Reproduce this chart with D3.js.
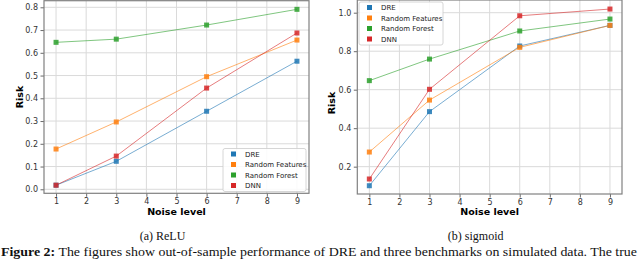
<!DOCTYPE html>
<html>
<head>
<meta charset="utf-8">
<script src="https://cdn.jsdelivr.net/npm/d3@7"></script>
<style>
  body { margin: 0; background: #fff; }
  svg { display: block; }
  text { font-family: "DejaVu Sans", sans-serif; }
</style>
</head>
<body>
<svg width="640" height="260"></svg>
<script>
// noise levels on the x axis
const noise = [1, 3, 6, 9];
const xTicks = [1, 2, 3, 4, 5, 6, 7, 8, 9];
const methods = ["DRE", "Random Features", "Random Forest", "DNN"];
const colors = ["#1f77b4", "#ff7f0e", "#2ca02c", "#d62728"];

// (a) ReLU
const reluDRE = [0.018, 0.123, 0.343, 0.563];
const reluRF = [0.177, 0.296, 0.495, 0.656];
const reluForest = [0.646, 0.660, 0.722, 0.791];
const reluDNN = [0.018, 0.146, 0.445, 0.687];
const reluTicks = [0.0, 0.1, 0.2, 0.3, 0.4, 0.5, 0.6, 0.7, 0.8];

// (b) sigmoid
const sigDRE = [0.101, 0.486, 0.827, 0.934];
const sigRF = [0.276, 0.546, 0.820, 0.934];
const sigForest = [0.647, 0.759, 0.905, 0.967];
const sigDNN = [0.136, 0.602, 0.984, 1.019];
const sigTicks = [0.2, 0.4, 0.6, 0.8, 1.0];

const svg = d3.select("svg");

function panel(opts) {
  const x = d3.scaleLinear().domain([0.6, 9.4]).range([opts.left, opts.right]);
  const y = d3.scaleLinear().domain(opts.ydom).range([opts.bottom, opts.top]);
  const g = svg.append("g");

  // grid
  g.append("g").selectAll("line").data(xTicks).enter().append("line")
    .attr("x1", d => x(d)).attr("x2", d => x(d))
    .attr("y1", opts.top).attr("y2", opts.bottom)
    .attr("stroke", "#dadada").attr("stroke-width", 1);
  g.append("g").selectAll("line").data(opts.yticks).enter().append("line")
    .attr("x1", opts.left).attr("x2", opts.right)
    .attr("y1", d => y(d)).attr("y2", d => y(d))
    .attr("stroke", "#dadada").attr("stroke-width", 1);

  // axes
  const xa = g.append("g")
    .attr("transform", "translate(0," + opts.bottom + ")")
    .call(d3.axisBottom(x).tickValues(xTicks).tickFormat(d3.format("d")).tickSize(3.5).tickPadding(2));
  const ya = g.append("g")
    .attr("transform", "translate(" + opts.left + ",0)")
    .call(d3.axisLeft(y).tickValues(opts.yticks).tickFormat(d3.format(".1f")).tickSize(3.5).tickPadding(2.5));
  [xa, ya].forEach(a => {
    a.select(".domain").remove();
    a.selectAll("line").attr("stroke", "#444").attr("stroke-width", 0.8);
    a.selectAll("text").attr("fill", "#333").style("font-size", "8px");
  });

  // spines
  g.append("rect")
    .attr("x", opts.left).attr("y", opts.top)
    .attr("width", opts.right - opts.left).attr("height", opts.bottom - opts.top)
    .attr("fill", "none").attr("stroke", "#808080").attr("stroke-width", 1.2);

  const line = d3.line().x((d, i) => x(noise[i])).y(d => y(d));
  opts.series.forEach((s, k) => {
    g.append("path").datum(s)
      .attr("d", line)
      .attr("fill", "none")
      .attr("stroke", colors[k])
      .attr("stroke-opacity", 0.6)
      .attr("stroke-width", 1);
  });
  opts.series.forEach((s, k) => {
    g.append("g").selectAll("rect").data(s).enter().append("rect")
      .attr("x", (d, i) => x(noise[i]) - 2.5)
      .attr("y", d => y(d) - 2.5)
      .attr("width", 5).attr("height", 5)
      .attr("fill", colors[k])
      .attr("fill-opacity", 0.85);
  });

  // axis labels
  g.append("text")
    .attr("x", (opts.left + opts.right) / 2).attr("y", 215)
    .attr("text-anchor", "middle")
    .style("font-size", "9.5px").style("font-weight", "bold")
    .text("Noise level");
  g.append("text")
    .attr("transform", "translate(" + opts.ylabX + "," + opts.ylabY + ") rotate(-90)")
    .attr("text-anchor", "middle")
    .style("font-size", "9.5px").style("font-weight", "bold")
    .text("Risk");

  // legend
  const lg = g.append("g").attr("transform", "translate(" + opts.legX + "," + opts.legY + ")");
  lg.append("rect")
    .attr("width", opts.legW).attr("height", 43).attr("rx", 2)
    .attr("fill", "#fff").attr("fill-opacity", 0.85)
    .attr("stroke", "#ccc").attr("stroke-width", 0.8);
  methods.forEach((m, k) => {
    lg.append("rect")
      .attr("x", 8).attr("y", 3 + k * 10.5)
      .attr("width", 5).attr("height", 5)
      .attr("fill", colors[k]);
    lg.append("text")
      .attr("x", 22).attr("y", 8.3 + k * 10.5)
      .style("font-size", "7px").attr("fill", "#222")
      .text(m);
  });

  // caption
  svg.append("text")
    .attr("x", (opts.left + opts.right) / 2 - 14).attr("y", 240)
    .attr("text-anchor", "middle")
    .style("font-family", "'Liberation Serif', serif")
    .style("font-size", "12px").attr("fill", "#111")
    .text(opts.caption);
}

panel({
  left: 44, right: 309, top: 0.7, bottom: 193.3,
  ydom: [-0.0176, 0.829],
  yticks: reluTicks,
  series: [reluDRE, reluRF, reluForest, reluDNN],
  ylabX: 23, ylabY: 97,
  legX: 223, legY: 148.5, legW: 83,
  caption: "(a) ReLU"
});

panel({
  left: 357.3, right: 622, top: 0, bottom: 194,
  ydom: [0.058, 1.066],
  yticks: sigTicks,
  series: [sigDRE, sigRF, sigForest, sigDNN],
  ylabX: 335, ylabY: 103,
  legX: 359, legY: 2, legW: 84,
  caption: "(b) sigmoid"
});

const cap = svg.append("text")
  .attr("x", 1).attr("y", 256)
  .style("font-family", "'Liberation Serif', serif")
  .style("font-size", "12px").attr("fill", "#111")
  .attr("textLength", 636).attr("lengthAdjust", "spacingAndGlyphs");
cap.append("tspan").style("font-weight", "bold").text("Figure 2:");
cap.append("tspan").text(" The figures show out-of-sample performance of DRE and three benchmarks on simulated data. The true");
</script>
</body>
</html>
